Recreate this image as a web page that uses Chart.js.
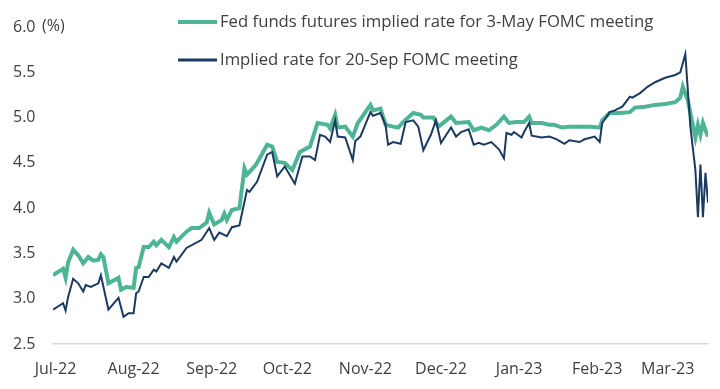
<!DOCTYPE html>
<html>
<head>
<meta charset="utf-8">
<title>Fed funds futures implied rates</title>
<script src="https://cdn.jsdelivr.net/npm/chart.js@4/dist/chart.umd.min.js"></script>
<style>
    body { margin: 0; background: #fff; }
    #wrap { width: 720px; height: 389px; }
</style>
</head>
<body>
<div id="wrap"><canvas id="rateChart" width="720" height="389"></canvas></div>
<script>
// x values are calendar days counted from 1-Jul-22
const monthDays = [0, 31, 62, 92, 123, 153, 184, 215, 243];
const monthLabels = ['Jul-22', 'Aug-22', 'Sep-22', 'Oct-22', 'Nov-22', 'Dec-22', 'Jan-23', 'Feb-23', 'Mar-23'];

const mayDays = [-1, 3, 4, 5, 7, 9, 11, 13, 15, 17, 18, 19, 21, 25, 26, 28, 31, 32, 33, 35, 37, 39, 40, 42, 45, 47, 48,
    52, 54, 57, 60, 61, 63, 66, 67, 68, 70, 73, 75, 76, 79, 80, 84, 86, 88, 91, 94, 97, 101, 104, 108, 109, 111, 112,
    115, 118, 120, 125, 126, 129, 131, 134, 136, 138, 142, 145, 146, 150, 152, 157, 159, 164, 166, 169, 172, 175, 178,
    180, 183, 186, 188, 189, 193, 196, 198, 201, 204, 208, 212, 216, 217, 220, 224, 228, 230, 234, 238, 242, 246, 248,
    249, 251, 252, 254, 255, 256, 257, 258, 259];
const mayRates = [3.26, 3.33, 3.23, 3.40, 3.54, 3.48, 3.39, 3.46, 3.42, 3.43, 3.49, 3.46, 3.17, 3.23, 3.10, 3.13, 3.12,
    3.34, 3.35, 3.57, 3.57, 3.63, 3.59, 3.65, 3.57, 3.68, 3.63, 3.74, 3.78, 3.78, 3.84, 3.95, 3.82, 3.87, 3.94, 3.87,
    3.98, 4.00, 4.44, 4.37, 4.46, 4.50, 4.70, 4.68, 4.51, 4.50, 4.42, 4.62, 4.68, 4.94, 4.92, 4.88, 5.03, 4.89, 4.90,
    4.79, 4.94, 5.14, 5.08, 5.10, 4.92, 4.90, 4.89, 4.95, 5.05, 5.03, 5.00, 5.00, 4.90, 5.01, 4.94, 4.95, 4.86, 4.89,
    4.86, 4.92, 5.01, 4.94, 4.95, 4.95, 5.01, 4.94, 4.94, 4.92, 4.92, 4.89, 4.90, 4.90, 4.90, 4.89, 4.97, 5.05, 5.05,
    5.06, 5.11, 5.12, 5.14, 5.15, 5.17, 5.22, 5.34, 5.19, 5.05, 4.78, 4.92, 4.81, 4.94, 4.86, 4.79];

const sepDays = [-1, 3, 4, 5, 7, 9, 11, 12, 14, 17, 18, 21, 25, 27, 29, 31, 32, 33, 35, 37, 39, 40, 42, 45, 47, 48, 52,
    58, 61, 63, 65, 68, 70, 73, 76, 77, 80, 84, 86, 88, 91, 95, 98, 101, 103, 105, 107, 109, 111, 112, 115, 118, 119,
    121, 125, 126, 129, 131, 132, 134, 137, 139, 142, 144, 146, 149, 151, 153, 157, 159, 161, 164, 166, 168, 170, 173,
    176, 178, 179, 181, 182, 185, 186, 188, 189, 193, 196, 199, 202, 204, 208, 210, 214, 216, 217, 220, 222, 225, 228,
    229, 232, 235, 238, 242, 246, 248, 250, 252, 254, 255, 256, 257, 258, 259];
const sepRates = [2.88, 2.95, 2.87, 3.02, 3.22, 3.17, 3.08, 3.15, 3.13, 3.17, 3.26, 2.88, 3.01, 2.80, 2.84, 2.84, 3.06,
    3.08, 3.24, 3.24, 3.32, 3.30, 3.39, 3.34, 3.46, 3.41, 3.56, 3.65, 3.78, 3.65, 3.73, 3.69, 3.79, 3.81, 4.20, 4.18,
    4.29, 4.59, 4.62, 4.35, 4.46, 4.27, 4.57, 4.57, 4.53, 4.81, 4.79, 4.73, 4.97, 4.79, 4.78, 4.53, 4.74, 4.79, 5.06,
    5.02, 5.05, 4.92, 4.70, 4.73, 4.71, 4.95, 4.97, 4.90, 4.64, 4.81, 4.97, 4.72, 4.89, 4.79, 4.84, 4.87, 4.70, 4.72,
    4.70, 4.73, 4.65, 4.55, 4.83, 4.81, 4.84, 4.78, 4.84, 4.94, 4.80, 4.78, 4.79, 4.76, 4.71, 4.75, 4.73, 4.76, 4.79,
    4.73, 4.94, 5.06, 5.08, 5.12, 5.23, 5.22, 5.27, 5.34, 5.39, 5.44, 5.47, 5.50, 5.70, 4.90, 4.42, 3.90, 4.48, 3.90,
    4.39, 4.06];

const greenColor = '#4db596';
const navyColor = '#1c3a60';
const textColor = '#404040';

Chart.defaults.font.family = '"Open Sans", sans-serif';
Chart.defaults.font.size = 16;
Chart.defaults.color = textColor;

// legend stacked top-left inside the plot, plus the "(%)" unit label
const stackedLegend = {
    id: 'stackedLegend',
    afterDraw(chart) {
        const ctx = chart.ctx;
        const rows = [22, 60];
        ctx.save();
        ctx.textBaseline = 'middle';
        ctx.fillStyle = textColor;
        ctx.font = '16.7px "Open Sans", sans-serif';
        chart.data.datasets.forEach((ds, i) => {
            ctx.strokeStyle = ds.borderColor;
            ctx.lineWidth = i === 0 ? 4 : 3;
            ctx.beginPath();
            ctx.moveTo(178, rows[i]);
            ctx.lineTo(217, rows[i]);
            ctx.stroke();
            ctx.fillText(ds.label, 220, rows[i]);
        });
        ctx.font = '16px "Open Sans", sans-serif';
        ctx.fillText('(%)', 42, 26);
        ctx.restore();
    }
};

const ctx = document.getElementById('rateChart').getContext('2d');
new Chart(ctx, {
    type: 'line',
    data: {
        datasets: [{
            label: 'Fed funds futures implied rate for 3-May FOMC meeting',
            data: mayDays.map((d, i) => ({ x: d, y: mayRates[i] })),
            borderColor: greenColor,
            borderWidth: 4,
            pointRadius: 0,
            tension: 0,
            order: 1
        }, {
            label: 'Implied rate for 20-Sep FOMC meeting',
            data: sepDays.map((d, i) => ({ x: d, y: sepRates[i] })),
            borderColor: navyColor,
            borderWidth: 2,
            pointRadius: 0,
            tension: 0,
            order: 0
        }]
    },
    options: {
        responsive: false,
        animation: false,
        layout: { padding: { left: 13, right: 12, top: 27, bottom: 0 } },
        plugins: {
            legend: { display: false },
            tooltip: { enabled: false }
        },
        scales: {
            x: {
                type: 'linear',
                min: -1,
                max: 259,
                afterBuildTicks: (scale) => {
                    scale.ticks = monthDays.map(v => ({ value: v }));
                },
                afterFit: (scale) => { scale.height = 45; },
                ticks: {
                    autoSkip: false,
                    maxRotation: 0,
                    padding: 16,
                    callback: (value, index) => monthLabels[index]
                },
                grid: { display: false, drawTicks: false },
                border: { display: true, color: '#d9d9d9', width: 1.5 }
            },
            y: {
                min: 2.5,
                max: 6.0,
                afterFit: (scale) => { scale.width = 40; },
                ticks: {
                    stepSize: 0.5,
                    crossAlign: 'far',
                    callback: (value) => value.toFixed(1)
                },
                grid: { display: false, drawTicks: false },
                border: { display: false }
            }
        }
    },
    plugins: [stackedLegend]
});
</script>
</body>
</html>
